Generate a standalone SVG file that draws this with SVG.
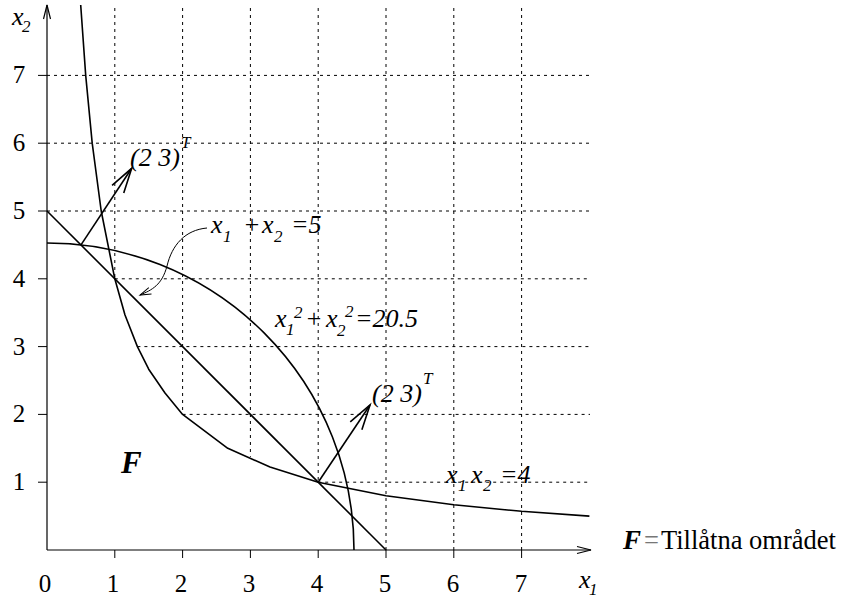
<svg xmlns="http://www.w3.org/2000/svg" width="843" height="599" viewBox="0 0 843 599">
<style>
.grid{stroke:#000;stroke-width:1;stroke-dasharray:3 4;fill:none}
.tick{stroke:#000;stroke-width:1;fill:none}
.axis{stroke:#000;stroke-width:1.2;fill:none}
.curve{stroke:#000;stroke-width:1.6;fill:none;stroke-linejoin:round}
.vec{stroke:#000;stroke-width:1.6;fill:none}
.thin{stroke:#000;stroke-width:1;fill:none}
text{font-family:'Liberation Serif','Times New Roman',Times,'DejaVu Serif',serif}
.num{font-size:25px;fill:#000}
.it{font-style:italic;font-size:26px;fill:#000}
.sub{font-size:17px}
.big{font-style:italic;font-weight:bold;fill:#000}
.rom{font-size:26.5px;fill:#000}
</style>
<defs>
<marker id="axArrow" markerUnits="userSpaceOnUse" viewBox="-15 -5 16 10" markerWidth="16" markerHeight="10" refX="0" refY="0" orient="auto" overflow="visible">
<path d="M-14,-3.5 L0,0 L-14,3.5" fill="none" stroke="#000" stroke-width="1.2"/>
</marker>
<marker id="vecArrow" markerUnits="userSpaceOnUse" viewBox="-27 -9 28 18" markerWidth="28" markerHeight="18" refX="0" refY="0" orient="auto" overflow="visible">
<path d="M-25,-7 L0,0 L-25,7" fill="none" stroke="#000" stroke-width="1.6"/>
</marker>
<marker id="smallArrow" markerUnits="userSpaceOnUse" viewBox="-12 -5 13 10" markerWidth="13" markerHeight="10" refX="0" refY="0" orient="auto" overflow="visible">
<path d="M-11,-3.5 L0,0 L-11,3.5" fill="none" stroke="#000" stroke-width="1"/>
</marker>
</defs>

<g id="grid">
<line class="grid" x1="114.8" y1="8" x2="114.8" y2="278.8"/>
<line class="grid" x1="182.6" y1="8" x2="182.6" y2="414.4"/>
<line class="grid" x1="250.4" y1="8" x2="250.4" y2="456.8"/>
<line class="grid" x1="318.2" y1="8" x2="318.2" y2="482.2"/>
<line class="grid" x1="386" y1="8" x2="386" y2="550"/>
<line class="grid" x1="453.8" y1="8" x2="453.8" y2="550"/>
<line class="grid" x1="521.6" y1="8" x2="521.6" y2="550"/>
<line class="grid" x1="318.2" y1="482.2" x2="590" y2="482.2"/>
<line class="grid" x1="182.6" y1="414.4" x2="590" y2="414.4"/>
<line class="grid" x1="137.4" y1="346.6" x2="590" y2="346.6"/>
<line class="grid" x1="114.8" y1="278.8" x2="590" y2="278.8"/>
<line class="grid" x1="47" y1="211" x2="590" y2="211"/>
<line class="grid" x1="47" y1="143.2" x2="590" y2="143.2"/>
<line class="grid" x1="47" y1="75.4" x2="590" y2="75.4"/>
</g>

<g id="axes">
<line class="axis" x1="47" y1="550" x2="47" y2="5" marker-end="url(#axArrow)"/>
<line class="axis" x1="47" y1="550" x2="591" y2="550" marker-end="url(#axArrow)"/>
<path class="tick" d="M38,482.2H47M38,414.4H47M38,346.6H47M38,278.8H47M38,211H47M38,143.2H47M38,75.4H47"/>
<path class="tick" d="M114.8,550V558M182.6,550V558M250.4,550V558M318.2,550V558M386,550V558M453.8,550V558M521.6,550V558"/>
<g class="num" text-anchor="middle">
<text x="19" y="490">1</text>
<text x="19" y="422">2</text>
<text x="19" y="355">3</text>
<text x="19" y="287">4</text>
<text x="19" y="219">5</text>
<text x="19" y="151">6</text>
<text x="19" y="83">7</text>
<text x="45" y="592">0</text>
<text x="113" y="592">1</text>
<text x="181" y="592">2</text>
<text x="249" y="592">3</text>
<text x="317" y="592">4</text>
<text x="385" y="592">5</text>
<text x="453" y="592">6</text>
<text x="521" y="592">7</text>
</g>
<text class="it" x="12" y="25">x<tspan class="sub" x="22" y="32">2</tspan></text>
<text class="it" x="579" y="588">x<tspan class="sub" x="589" y="595">1</tspan></text>
</g>

<g id="curves">
<line id="line-sum" class="curve" x1="47" y1="211" x2="386" y2="550"/>
<path id="circle" class="curve" d="M47,243 A307,307 0 0 1 354,550"/>
<path id="hyperbola" class="curve" d="M80.7,5 L85.7,75.4 L92.2,143.2 L101.2,211 L114.8,278.8 L125,315 L137.4,346.6 L148.7,369.2 L165,393 L182.6,414.4 L227.8,448.3 L270,467 L318.2,482.2 L386,495.8 L453.8,504.8 L521.6,511.3 L589.4,516.1"/>
</g>

<g id="connectors">
<line class="vec" x1="81" y1="244.9" x2="131.7" y2="168.3" marker-end="url(#vecArrow)"/>
<line class="vec" x1="318.2" y1="482.2" x2="370" y2="405" marker-end="url(#vecArrow)"/>
<path class="thin" d="M207,228 C185,230 172,245 167,266 C162,285 152,290 140,295" marker-end="url(#smallArrow)"/>
</g>

<g id="labels">
<text class="it" x="130" y="166">(2 3)<tspan class="sub" x="181" y="148">T</tspan></text>
<text class="it" x="372" y="402">(2 3)<tspan class="sub" x="423" y="384">T</tspan></text>
<text class="it" x="211" y="233">x<tspan class="sub" x="223" y="242">1</tspan><tspan x="243" y="233">+</tspan><tspan x="262" y="233">x</tspan><tspan class="sub" x="274" y="242">2</tspan><tspan x="291" y="233">=5</tspan></text>
<text class="it" x="275" y="327">x<tspan class="sub" x="286" y="335">1</tspan><tspan class="sub" x="294" y="318">2</tspan><tspan x="305" y="327">+</tspan><tspan x="326" y="327">x</tspan><tspan class="sub" x="337" y="336">2</tspan><tspan class="sub" x="345" y="317">2</tspan><tspan x="355" y="327">=20.5</tspan></text>
<text class="it" x="446" y="483">x<tspan class="sub" x="458" y="491">1</tspan><tspan x="471" y="483">x</tspan><tspan class="sub" x="483" y="491">2</tspan><tspan x="500" y="483">=4</tspan></text>
<text class="big" x="121" y="473" font-size="31">F</text>
<text class="big" x="623" y="549" font-size="27">F</text>
<text class="rom" x="644" y="549" style="fill:#777">=</text>
<text class="rom" x="661" y="549">Tillåtna området</text>
</g>
</svg>
